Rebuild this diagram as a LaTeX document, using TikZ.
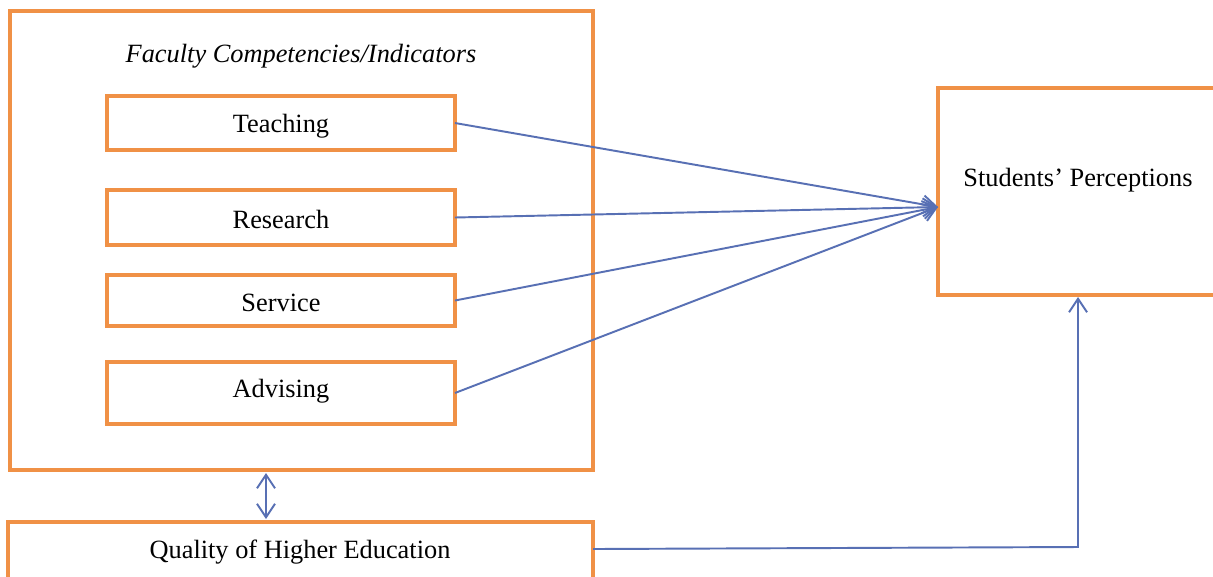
\documentclass[tikz,border=0pt]{standalone}
\usepackage{fontspec}
\setmainfont{Liberation Serif}
\usetikzlibrary{arrows.meta}
\definecolor{boxorange}{RGB}{240,145,70}
\definecolor{linkblue}{RGB}{88,112,180}
\tikzset{
  obox/.style={draw=boxorange, line width=2.3pt, rectangle, inner sep=0pt, outer sep=0pt, fill=none},
  lbl/.style={font=\fontsize{15}{18}\selectfont, inner sep=0pt},
  link/.style={draw=linkblue, line width=1.1pt, -{Straight Barb[length=0.27cm,width=0.36cm,line width=1.1pt]}},
  dlink/.style={draw=linkblue, line width=1.1pt, {Straight Barb[length=0.27cm,width=0.36cm,line width=1.1pt]}-{Straight Barb[length=0.27cm,width=0.36cm,line width=1.1pt]}}
}
\begin{document}
\begin{tikzpicture}[x=0.02cm,y=-0.02cm]
\useasboundingbox (0,0) rectangle (1213,576);
\clip (0,0) rectangle (1213,576);
\fill[white] (0,0) rectangle (1213,576);
% outer box
\node[obox, minimum width=11.66cm, minimum height=9.18cm] (outer) at (301.5,240.5) {};
\node[lbl, font=\fontsize{15}{18}\selectfont\itshape] (title) at (301,56) {Faculty Competencies/Indicators};
\node[obox, minimum width=6.96cm, minimum height=1.08cm] (teach) at (281,123) {};
\node[obox, minimum width=6.96cm, minimum height=1.10cm] (res) at (281,217.5) {};
\node[obox, minimum width=6.96cm, minimum height=1.02cm] (serv) at (281,300.5) {};
\node[obox, minimum width=6.96cm, minimum height=1.24cm] (adv) at (281,393) {};
\node[lbl] (teachtext) at (281,126) {Teaching};
\node[lbl] (restext) at (281,219) {Research};
\node[lbl] (servtext) at (281,303) {Service};
\node[lbl] (advtext) at (281,391) {Advising};
% students box
\node[obox, minimum width=6.24cm, minimum height=4.14cm] (sp) at (1094,191.5) {};
\node[lbl] (sptext) at (1078,180) {Students’ Perceptions};
% quality box
\node[obox, minimum width=11.7cm, minimum height=1.56cm] (qual) at (300.5,561) {};
\node[lbl] (qtext) at (300,552) {Quality of Higher Education};
% coordinates
\coordinate (tgt) at (938,207);
\coordinate (d1) at (266,473);
\coordinate (d2) at (266,519);
\coordinate (q1) at (593,549);
\coordinate (q2) at (1078,547);
\coordinate (q3) at (1078,297);
% connectors
\draw[link] (teach.east) -- (tgt);
\draw[link] (res.east) -- (tgt);
\draw[link] (serv.east) -- (tgt);
\draw[link] (adv.east) -- (tgt);
\draw[dlink] (d1) -- (d2);
\draw[link] (q1) -- (q2) -- (q3);
\end{tikzpicture}
\end{document}
